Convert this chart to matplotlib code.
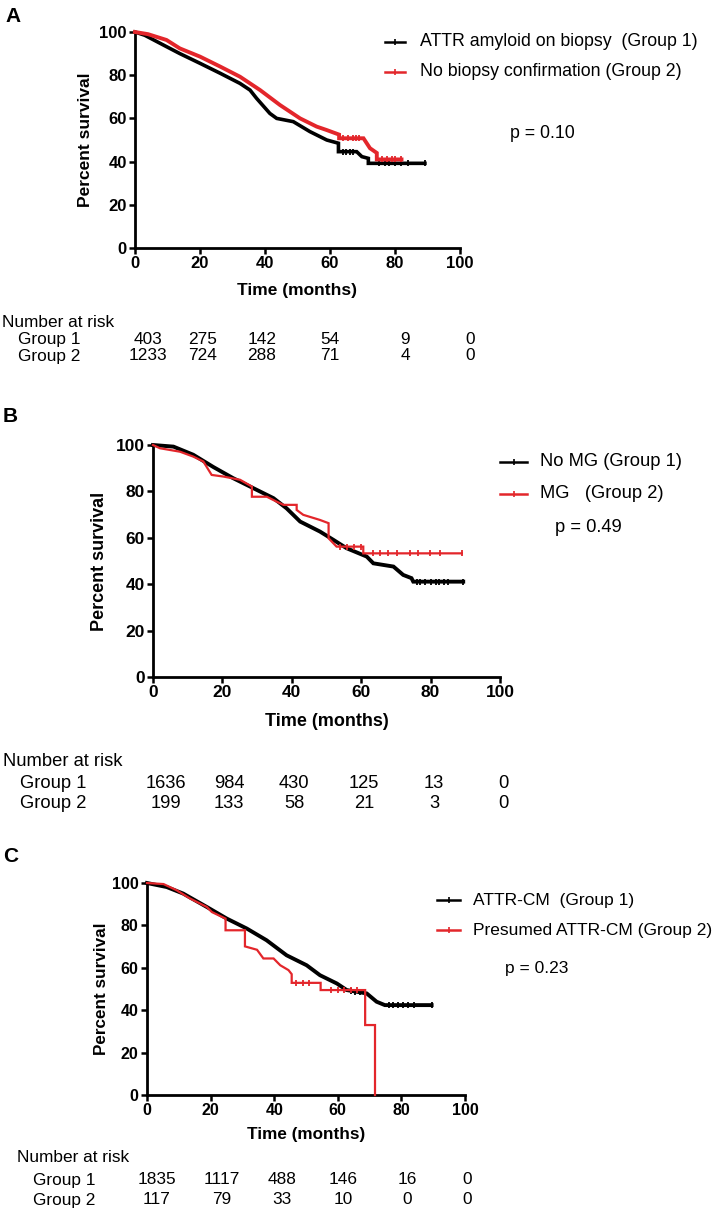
import numpy as np
import matplotlib
matplotlib.use("Agg")
import matplotlib.pyplot as plt
from matplotlib.lines import Line2D

plt.rcParams['font.family'] = ['Liberation Sans', 'DejaVu Sans']

# ---------------- data ----------------
# Panel A
a_g1_t = [0, 3, 8.7, 13.8, 20, 26.2, 32.3, 35.4, 37.4, 41.5, 43.6, 48.7, 53.8, 59, 62.6, 62.6, 68.2, 69.8, 71.8, 71.8, 89.2]
a_g1_s = [100, 98.5, 94, 90, 85.5, 80.9, 76.2, 73.1, 69.3, 62.3, 60, 58.5, 53.9, 50, 48.5, 44.6, 44.6, 42.3, 41.5, 39.2, 39.2]
a_g2_t = [0, 4, 9.7, 13.8, 20, 26.2, 32.3, 38.5, 44.6, 50.8, 55.9, 59, 62.8, 62.8, 70.3, 72.3, 74.4, 74.4, 82]
a_g2_s = [100, 99, 96.3, 92.4, 88.6, 84, 79.3, 73.1, 66.2, 60, 56.2, 54.6, 52.5, 50.8, 50.8, 46.2, 44, 41, 41]
a_g1_cens = [64, 65, 66, 67, 75, 77, 78, 80, 82, 84, 89.2]
a_g2_cens = [64, 65.5, 67, 68, 69, 76, 77.5, 79, 80, 82]

# Panel B
b_g1_t = [0, 5.9, 11.6, 17.4, 23.1, 28.9, 34.7, 38.5, 42.4, 48.1, 52, 55.8, 61.6, 63.5, 69.3, 72.1, 74.5, 75, 89.4]
b_g1_s = [100, 99.3, 95.8, 90.5, 85.7, 81.4, 77.1, 72.7, 67, 62.7, 59.1, 55.5, 51.9, 49, 47.6, 44, 42.6, 41.1, 41.1]
b_g2_t = [0, 2, 7.8, 11.6, 14.5, 16.9, 20.3, 25.1, 28.5, 28.5, 32.8, 35.6, 37.6, 41.4, 41.4, 43.3, 48.1, 50.6, 50.6, 52.9, 60.6, 60.6, 89]
b_g2_s = [100, 98.6, 97.1, 95, 92.9, 87.1, 86.4, 85, 82.1, 77.7, 77.7, 75.6, 74.2, 74.2, 72, 69.9, 67.7, 66.3, 59.8, 56.2, 56.2, 53.3, 53.3]
b_g1_cens = [76, 77, 78.5, 80, 81.5, 82.5, 84, 85, 89.4]
b_g2_cens = [54, 56, 58, 60, 63.5, 65.4, 67.8, 70.2, 74.1, 76.5, 79.8, 82.7, 89]

# Panel C
c_g1_t = [0, 6.2, 11.4, 18.8, 25.1, 31.4, 37.6, 43.9, 50.2, 54.4, 59.7, 62.8, 69.1, 72.2, 74.8, 89.5]
c_g1_s = [100, 98.1, 95, 88.7, 83.2, 78.5, 73, 65.9, 61.2, 56.5, 52.6, 49.5, 47.9, 44, 42.4, 42.4]
c_g2_t = [0, 5.2, 9.3, 13.5, 18.8, 20.4, 24.7, 24.7, 30.8, 30.8, 34.6, 36.6, 39.8, 41.9, 44.5, 45.5, 45.5, 54.6, 54.6, 68.6, 68.6, 71.7, 71.7]
c_g2_s = [100, 99.5, 96.6, 92.7, 88.7, 86.3, 83.2, 77.7, 77.7, 70.1, 68.5, 64.4, 64.4, 61.2, 58.9, 57, 52.9, 52.9, 49.5, 49.5, 33, 33, 0]
c_g1_cens = [64, 65.5, 67, 68.5, 76, 77.5, 79, 80.5, 82, 84, 89.5]
c_g2_cens = [47, 49, 51, 58, 60, 62, 64, 66]

risk_times = [0, 20, 40, 60, 80, 100]
a_risk_g1 = [403, 275, 142, 54, 9, 0]
a_risk_g2 = [1233, 724, 288, 71, 4, 0]
b_risk_g1 = [1636, 984, 430, 125, 13, 0]
b_risk_g2 = [199, 133, 58, 21, 3, 0]
c_risk_g1 = [1835, 1117, 488, 146, 16, 0]
c_risk_g2 = [117, 79, 33, 10, 0, 0]

a_labels = ["ATTR amyloid on biopsy  (Group 1)", "No biopsy confirmation (Group 2)"]
b_labels = ["No MG (Group 1)", "MG   (Group 2)"]
c_labels = ["ATTR-CM  (Group 1)", "Presumed ATTR-CM (Group 2)"]
p_values = ["p = 0.10", "p = 0.49", "p = 0.23"]
ticks = [0, 20, 40, 60, 80, 100]

BLACK = '#000000'
RED = '#E3262B'

W, H = 714, 1210
fig = plt.figure(figsize=(W / 100, H / 100), dpi=100)


def fx(x):
    return x / W


def fy(y):
    return 1 - y / H


def make_axes(left, right, top, bottom, tick_fs):
    ax = fig.add_axes([fx(left), fy(bottom), (right - left) / W, (bottom - top) / H])
    ax.set_xlim(0, 100)
    ax.set_ylim(0, 100)
    ax.set_xticks(ticks)
    ax.set_yticks(ticks)
    for sp in ['top', 'right']:
        ax.spines[sp].set_visible(False)
    for sp in ['left', 'bottom']:
        ax.spines[sp].set_linewidth(2.0)
    ax.tick_params(direction='out', length=4, width=1.8, labelsize=tick_fs, pad=2)
    for lab in ax.get_xticklabels() + ax.get_yticklabels():
        lab.set_fontweight('bold')
    ax.patch.set_alpha(0)
    return ax


def draw_curve(ax, t, s, cens, color, lw):
    ax.plot(t, s, color=color, lw=lw, clip_on=False, solid_joinstyle='miter', zorder=3)
    cy = np.interp(cens, t, s)
    ax.plot(cens, cy, ls='none', marker='|', ms=5, mew=1.3, color=color, clip_on=False, zorder=3)


def legend(x0, x1, xt, ys, labels, fs):
    for y, lab, col in zip(ys, labels, [BLACK, RED]):
        fig.add_artist(Line2D([fx(x0), fx((x0 + x1) / 2), fx(x1)], [fy(y)] * 3,
                              transform=fig.transFigure, color=col, lw=1.8,
                              marker='|', markevery=[1], ms=5, mew=1.2))
        fig.text(fx(xt), fy(y), lab, fontsize=fs, va='center', ha='left')


def risk_table(x_title, x_group, ys, cols, g1, g2, fs):
    fig.text(fx(x_title), fy(ys[0]), "Number at risk", fontsize=fs, va='center', ha='left')
    fig.text(fx(x_group), fy(ys[1]), "Group 1", fontsize=fs, va='center', ha='left')
    fig.text(fx(x_group), fy(ys[2]), "Group 2", fontsize=fs, va='center', ha='left')
    for x, v1, v2 in zip(cols, g1, g2):
        fig.text(fx(x), fy(ys[1]), str(v1), fontsize=fs, va='center', ha='center')
        fig.text(fx(x), fy(ys[2]), str(v2), fontsize=fs, va='center', ha='center')


# ---------------- Panel A ----------------
axA = make_axes(135, 460, 32, 248, 12)
draw_curve(axA, a_g1_t, a_g1_s, a_g1_cens, BLACK, 2.6)
draw_curve(axA, a_g2_t, a_g2_s, a_g2_cens, RED, 2.8)
fig.text(fx(5), fy(17), "A", fontsize=15, fontweight='bold', va='center', ha='left')
fig.text(fx(85), fy(140), "Percent survival", fontsize=12.5, fontweight='bold', rotation=90, va='center', ha='center')
fig.text(fx(297), fy(290), "Time (months)", fontsize=12.5, fontweight='bold', va='center', ha='center')
legend(385, 405, 420, [42, 72], a_labels, 12.8)
fig.text(fx(510), fy(134), p_values[0], fontsize=12.8, va='center', ha='left')
risk_table(2, 18, [323, 340, 356], [148, 203, 262, 330, 405, 470], a_risk_g1, a_risk_g2, 12.4)

# ---------------- Panel B ----------------
axB = make_axes(153, 500, 445, 677, 12.5)
draw_curve(axB, b_g1_t, b_g1_s, b_g1_cens, BLACK, 2.8)
draw_curve(axB, b_g2_t, b_g2_s, b_g2_cens, RED, 1.6)
fig.text(fx(3), fy(417), "B", fontsize=15, fontweight='bold', va='center', ha='left')
fig.text(fx(100), fy(561), "Percent survival", fontsize=13, fontweight='bold', rotation=90, va='center', ha='center')
fig.text(fx(327), fy(721), "Time (months)", fontsize=13, fontweight='bold', va='center', ha='center')
legend(500, 527, 540, [462, 494], b_labels, 13.2)
fig.text(fx(555), fy(528), p_values[1], fontsize=13.2, va='center', ha='left')
risk_table(3, 20, [762, 783, 803], [166, 229, 294, 364, 434, 503], b_risk_g1, b_risk_g2, 13.2)

# ---------------- Panel C ----------------
axC = make_axes(147, 465, 883, 1095, 11.5)
draw_curve(axC, c_g1_t, c_g1_s, c_g1_cens, BLACK, 2.8)
draw_curve(axC, c_g2_t, c_g2_s, c_g2_cens, RED, 1.6)
fig.text(fx(3), fy(856), "C", fontsize=15, fontweight='bold', va='center', ha='left')
fig.text(fx(102), fy(989), "Percent survival", fontsize=12.3, fontweight='bold', rotation=90, va='center', ha='center')
fig.text(fx(306), fy(1135), "Time (months)", fontsize=12.3, fontweight='bold', va='center', ha='center')
legend(437, 460, 473, [900, 930], c_labels, 12.5)
fig.text(fx(505), fy(968), p_values[2], fontsize=12.5, va='center', ha='left')
risk_table(17, 33, [1158, 1180, 1200], [157, 222, 282, 343, 407, 467], c_risk_g1, c_risk_g2, 12.4)

fig.savefig("out.png", dpi=100)
